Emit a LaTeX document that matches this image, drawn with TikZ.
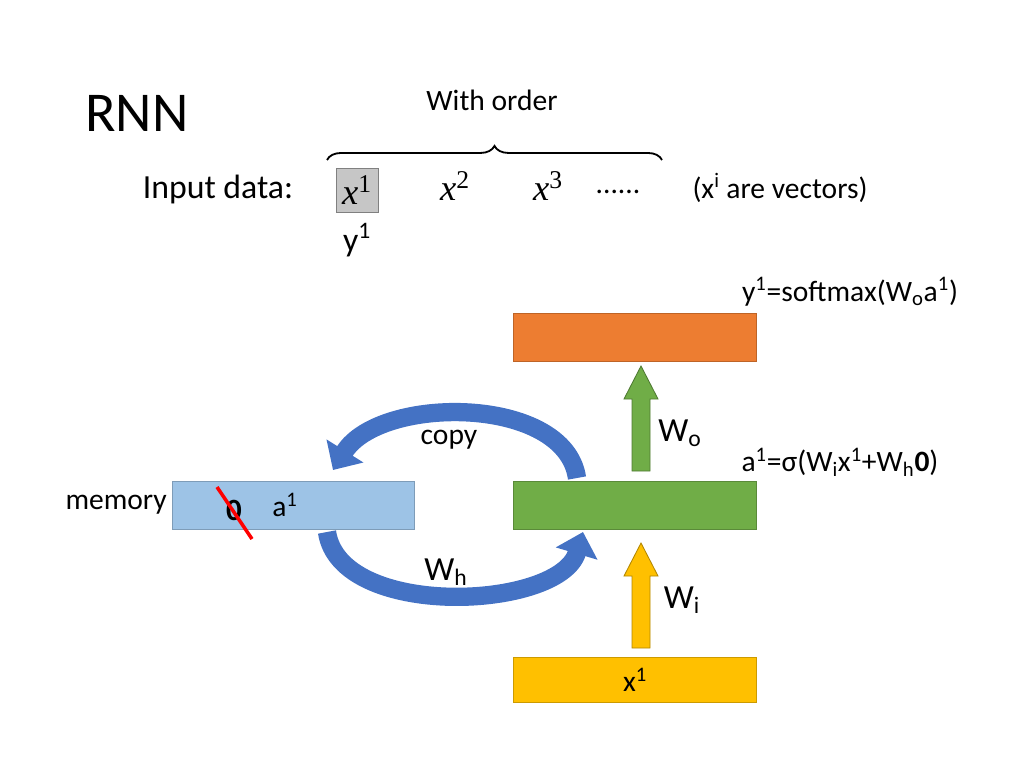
\documentclass[tikz,border=0pt]{standalone}
\usepackage{fontspec}
\setmainfont{Carlito}
\newfontfamily\mathserif{Liberation Serif}
\usetikzlibrary{positioning,decorations.pathreplacing,arrows.meta}
\definecolor{orng}{HTML}{ED7D31}
\definecolor{grn}{HTML}{70AD47}
\definecolor{blu}{HTML}{9DC3E6}
\definecolor{yel}{HTML}{FFC000}
\definecolor{arrblu}{HTML}{4472C4}
\tikzset{
  layer/.style = {draw=#1!80!black, fill=#1, minimum width=243*0.025cm, minimum height=48*0.025cm, inner sep=0pt},
  fat/.style = {draw=#1!70!black, fill=#1, line width=0.6pt},
  loop/.style = {line width=13pt, draw=arrblu, -{Triangle[length=16pt,width=30pt]}},
  txt/.style = {font=\fontsize{21}{25}\selectfont},
  big/.style = {font=\fontsize{24}{28}\selectfont},
  xin/.style = {font=\mathserif\itshape\fontsize{26}{30}\selectfont},
}
\newcommand{\fatup}[3]{% x, y bottom, y top
  \filldraw[fat=#1] (#2-9,#3) -- (#2+9,#3) -- (#2+9,#3-72) -- (#2+17,#3-72) -- (#2,#3-105) -- (#2-17,#3-72) -- (#2-9,#3-72) -- cycle;}
\begin{document}
\begin{tikzpicture}[x=0.025cm, y=-0.025cm]
\useasboundingbox (0,0) rectangle (1024,768);
% title and input
\node[font=\fontsize{40}{46}\selectfont] (title) at (137,113) {RNN};
\node[txt] (order) at (492,100) {With order};
\draw[decorate, decoration={brace, amplitude=10pt}, line width=1.3pt] (327,160) -- (662,160);
\node[big] (input) at (218,190) {Input data:};
\node[fill=gray!45, draw=gray, minimum width=42*0.025cm, minimum height=44*0.025cm, xin] (x1) at (357,190) {x\textsuperscript{\upshape 1}};
\node[xin] (x2) at (455,186) {x\textsuperscript{\upshape 2}};
\node[xin] (x3) at (548,186) {x\textsuperscript{\upshape 3}};
\node[txt] (dots) at (618,192) {......};
\node[txt] (vec) at (780,188) {(x\textsuperscript{i} are vectors)};
\node[big] (y1) at (357,240) {y\textsuperscript{1}};
% layers
\node[layer=orng] (out) at (635,337) {};
\node[layer=grn] (hid) at (635,505) {};
\node[layer=blu, minimum width=242*0.025cm] (mem) at (293,505) {};
\node[layer=yel, minimum height=45*0.025cm] (in) at (635,680) {};
\node[txt] at (in) {x\textsuperscript{1}};
\node[txt, left=0pt of mem] (memlbl) {memory};
\node[font=\bfseries\fontsize{22}{26}\selectfont] (zero) at (234,510) {0};
\draw[red, line width=2.5pt] (217,487) -- (252,539);
\node[txt] (a1) at (285,505) {a\textsuperscript{1}};
% vertical arrows
\fatup{grn}{641}{471}
\fatup{yel}{641}{648}
\node[big] at (680,433) {W\textsubscript{o}};
\node[big] at (682,600) {W\textsubscript{i}};
\node[txt] (ylbl) at (850,292) {y\textsuperscript{1}=softmax(W\textsubscript{o}a\textsuperscript{1})};
\node[txt] (albl) at (840,462) {a\textsuperscript{1}=σ(W\textsubscript{i}x\textsuperscript{1}+W\textsubscript{h}\textbf{0})};
% loop arrows
\coordinate (cs) at (577,478);
\coordinate (ce) at (333,470);
\coordinate (hs) at (327,532);
\coordinate (he) at (583,532);
\draw[loop] (cs) .. controls (565,395) and (380,395) .. (ce);
\draw[loop] (hs) .. controls (340,620) and (560,610) .. (he);
\node[txt] (copy) at (449,440) {copy};
\node[big] (wh) at (446,572) {W\textsubscript{h}};
\end{tikzpicture}
\end{document}
